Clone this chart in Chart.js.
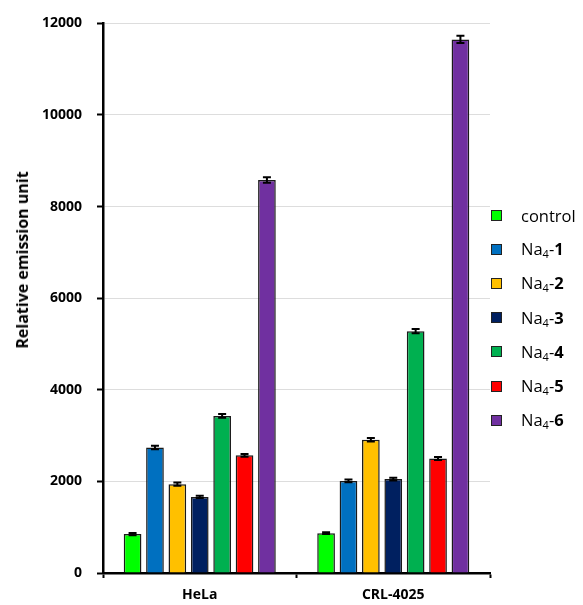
<!DOCTYPE html>
<html lang="en">
<head>
    <meta charset="UTF-8">
    <title>Relative emission unit</title>
    <script src="https://cdn.jsdelivr.net/npm/chart.js"></script>
    <style>
        body {
            margin: 0;
            background: #ffffff;
            font-family: 'Open Sans', sans-serif;
        }

        .wrap {
            position: relative;
            width: 583px;
            height: 605px;
        }

        /* y title sits a little above the plot centre, like the original */
        .ytitle {
            position: absolute;
            left: 22px;
            top: 260px;
            transform: translate(-50%, -50%) rotate(-90deg);
            white-space: nowrap;
            font-weight: bold;
            font-size: 16px;
            color: #000;
        }

        .legend {
            position: absolute;
            left: 491px;
            top: 198px;
            font-size: 16.5px;
            color: #000;
        }

        .legend div {
            height: 34.2px;
            display: flex;
            align-items: center;
            white-space: nowrap;
        }

        .legend span.box {
            display: inline-block;
            width: 9px;
            height: 9px;
            border: 1.5px solid #222;
            margin-right: 19px;
        }

        .legend sub {
            font-size: 11px;
            vertical-align: -3px;
        }
    </style>
</head>
<body>

<div class="wrap">
    <canvas id="emissionChart" width="583" height="605"></canvas>
    <div class="ytitle">Relative emission unit</div>
    <div class="legend" id="legend"></div>
</div>

<script>
    const categories = ['HeLa', 'CRL-4025'];
    const seriesNames = ['control', 'Na4-1', 'Na4-2', 'Na4-3', 'Na4-4', 'Na4-5', 'Na4-6'];
    const seriesColors = ['#00ff00', '#0070c0', '#ffc000', '#002060', '#00b050', '#ff0000', '#7030a0'];

    // values per series, one per cell line
    const control = [850, 870];
    const na4_1 = [2740, 2010];
    const na4_2 = [1940, 2910];
    const na4_3 = [1660, 2050];
    const na4_4 = [3430, 5280];
    const na4_5 = [2570, 2500];
    const na4_6 = [8580, 11650];

    // standard deviations
    const controlErr = [25, 20];
    const na4_1Err = [40, 30];
    const na4_2Err = [35, 40];
    const na4_3Err = [25, 30];
    const na4_4Err = [40, 45];
    const na4_5Err = [30, 35];
    const na4_6Err = [60, 80];

    const values = [control, na4_1, na4_2, na4_3, na4_4, na4_5, na4_6];
    const errors = [controlErr, na4_1Err, na4_2Err, na4_3Err, na4_4Err, na4_5Err, na4_6Err];

    const yTicks = [0, 2000, 4000, 6000, 8000, 10000, 12000];

    // error bars drawn after the bars
    const errorBars = {
        id: 'errorBars',
        afterDatasetsDraw(chart) {
            const ctx = chart.ctx;
            const y = chart.scales.y;
            chart.data.datasets.forEach((ds, i) => {
                const meta = chart.getDatasetMeta(i);
                meta.data.forEach((bar, j) => {
                    const v = ds.data[j];
                    const e = ds.errors[j];
                    const top = y.getPixelForValue(v + e);
                    const bot = y.getPixelForValue(v - e);
                    const half = 4;
                    ctx.save();
                    ctx.strokeStyle = '#000';
                    ctx.lineWidth = 2;
                    ctx.beginPath();
                    ctx.moveTo(bar.x, top);
                    ctx.lineTo(bar.x, bot);
                    ctx.moveTo(bar.x - half, top);
                    ctx.lineTo(bar.x + half, top);
                    ctx.moveTo(bar.x - half, bot);
                    ctx.lineTo(bar.x + half, bot);
                    ctx.stroke();
                    ctx.restore();
                });
            });
        }
    };

    const ctx = document.getElementById('emissionChart').getContext('2d');

    const emissionChart = new Chart(ctx, {
        type: 'bar',
        data: {
            labels: categories,
            datasets: seriesNames.map((name, i) => ({
                label: name.replace('Na4', 'Na\u2084'),
                data: values[i],
                errors: errors[i],
                backgroundColor: seriesColors[i],
                borderColor: '#1a1a1a',
                borderWidth: 1.5,
                categoryPercentage: 0.81,
                barPercentage: 0.79
            }))
        },
        options: {
            responsive: false,
            animation: false,
            layout: {
                padding: { top: 21, right: 93, bottom: 0, left: 0 }
            },
            scales: {
                x: {
                    grid: {
                        offset: true,
                        drawOnChartArea: false,
                        tickLength: 5,
                        tickColor: '#000',
                        tickWidth: 2
                    },
                    border: { color: '#000', width: 2.5 },
                    ticks: {
                        color: '#000',
                        padding: 9,
                        font: { family: 'Open Sans', size: 14, weight: 'bold' }
                    },
                    afterFit: s => { s.height = 32; }
                },
                y: {
                    min: 0,
                    max: 12000,
                    afterBuildTicks: s => { s.ticks = yTicks.map(v => ({ value: v })); },
                    grid: {
                        color: '#dddddd',
                        tickLength: 6,
                        tickColor: '#000',
                        tickWidth: 2
                    },
                    border: { color: '#000', width: 2.5 },
                    ticks: {
                        color: '#000',
                        padding: 15,
                        callback: v => String(v),
                        font: { family: 'Open Sans', size: 14, weight: 'bold' }
                    },
                    afterFit: s => { s.width = 103; }
                }
            },
            plugins: {
                legend: { display: false },
                tooltip: { enabled: false }
            }
        },
        plugins: [errorBars]
    });

    // legend with subscript 4 and bold compound number
    const legendEl = document.getElementById('legend');
    seriesNames.forEach((name, i) => {
        const row = document.createElement('div');
        const box = document.createElement('span');
        box.className = 'box';
        box.style.background = seriesColors[i];
        row.appendChild(box);
        const txt = document.createElement('span');
        txt.innerHTML = name.replace(/Na4-(\d)/, 'Na<sub>4</sub>-<b>$1</b>');
        row.appendChild(txt);
        legendEl.appendChild(row);
    });
</script>

</body>
</html>
